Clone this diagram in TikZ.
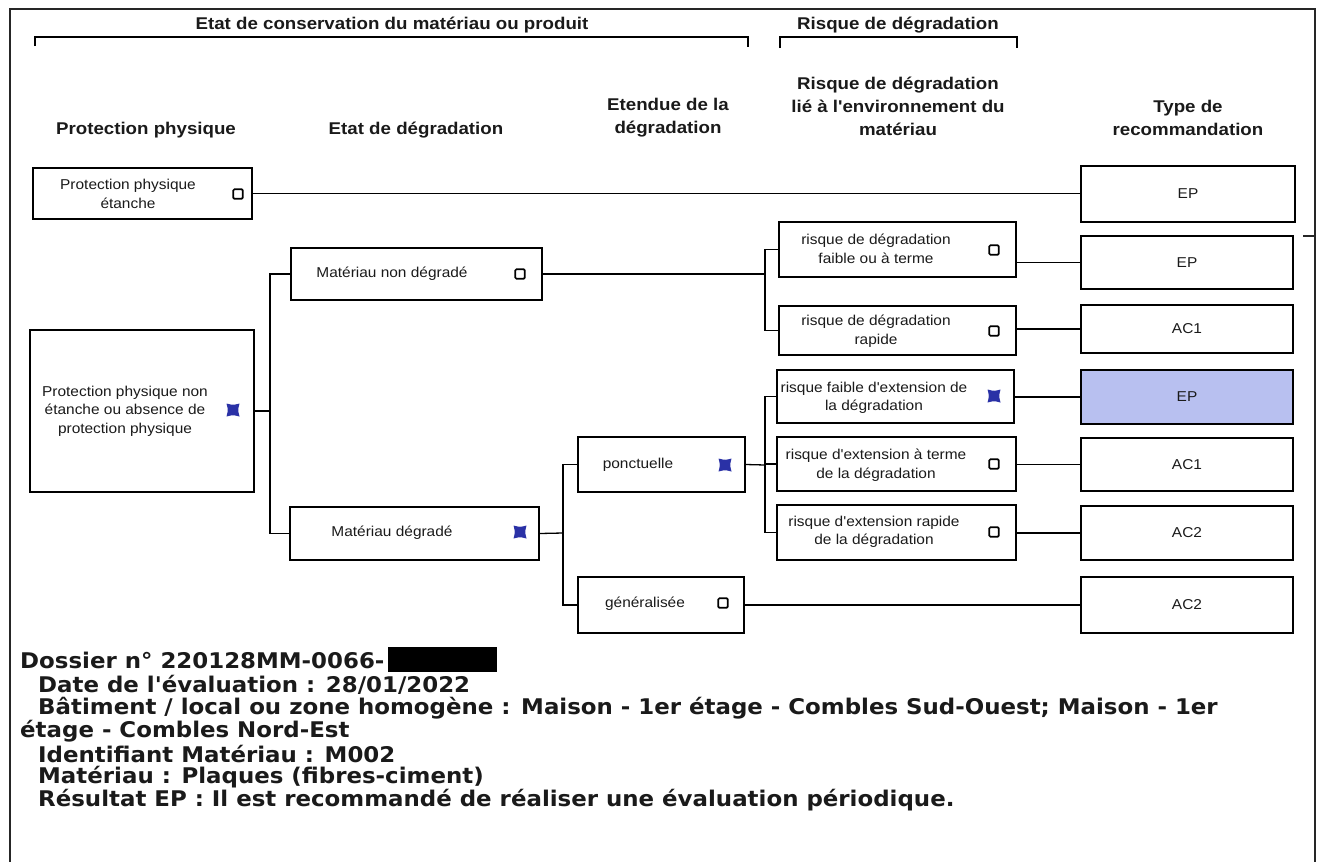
\documentclass[tikz,border=0pt]{standalone}
\usepackage{fontspec}
\setmainfont{Liberation Sans}
\newfontfamily\boxfont[FakeStretch=1.08]{Liberation Sans}
\newfontfamily\hdfont[FakeStretch=1.1]{Liberation Sans}
\newfontfamily\infofont[FakeStretch=1.06]{DejaVu Sans}
\usetikzlibrary{calc}
\definecolor{xblue}{HTML}{2A31A6}
\definecolor{eifill}{HTML}{B8C0F0}
\definecolor{ink}{HTML}{1A1A1A}
\begin{document}
\begin{tikzpicture}[x=1pt,y=-1pt,
  box/.style={draw=black, line width=1.7pt, inner sep=0pt},
  conn/.style={draw=black, line width=1.3pt},
  frameline/.style={draw=black!85, line width=1.3pt},
  chk/.style={draw=black, line width=1.7pt, minimum size=9.5pt, inner sep=0pt, rounded corners=1.2pt},
  txt/.style={font=\boxfont\fontsize{14.3}{18.5}\selectfont, align=center, text=ink, inner sep=0pt},
  hd/.style={font=\hdfont\bfseries\fontsize{17}{23}\selectfont, align=center, text=ink, inner sep=0pt},
  info/.style={font=\infofont\bfseries\fontsize{21.6}{23}\selectfont, anchor=west, text=ink, inner sep=0pt},
  bluex/.pic={\fill[xblue] (-6.5,-6.5) .. controls (0,-4.8) .. (6.5,-6.5) .. controls (4.8,0) .. (6.5,6.5) .. controls (0,4.8) .. (-6.5,6.5) .. controls (-4.8,0) .. cycle;}
]
\useasboundingbox (0,0) rectangle (1320,862);
\fill[white] (0,0) rectangle (1320,862);

% outer frame
\draw[frameline] (10,862) -- (10,9) -- (1315,9) -- (1315,862);
\draw[frameline] (1303,236) -- (1315,236);

% top brackets
\draw[line width=1.4pt] (35,46) -- (35,37) -- (748,37) -- (748,47);
\draw[line width=1.4pt] (780,48) -- (780,37) -- (1017,37) -- (1017,48);
\node[hd] (h1) at (392,25) {Etat de conservation du matériau ou produit};
\node[hd] (h2) at (898,25) {Risque de dégradation};

% column headers
\node[hd] (c1) at (146,130) {Protection physique};
\node[hd] (c2) at (416,130) {Etat de dégradation};
\node[hd] (c3) at (668,118) {Etendue de la\\dégradation};
\node[hd] (c4) at (898,106) {Risque de dégradation\\lié à l'environnement du\\matériau};
\node[hd] (c5) at (1188,118) {Type de\\recommandation};

% column 1
\node[box, minimum width=219pt, minimum height=51pt] (b1) at (142.5,193.5) {};
\node[txt] (t1) at (128,194) {Protection physique\\étanche};
\node[chk] (k1) at (238,194) {};
\node[box, minimum width=224pt, minimum height=162pt] (b2) at (142,411) {};
\node[txt] (t2) at (125,411) {Protection physique non\\étanche ou absence de\\protection physique};
\pic at (233,410) {bluex};

% column 2
\node[box, minimum width=251pt, minimum height=52pt] (b3) at (416.5,274) {};
\node[txt] (t3) at (392,274) {Matériau non dégradé};
\node[chk] (k3) at (520,274) {};
\node[box, minimum width=249pt, minimum height=53pt] (b4) at (414.5,533.5) {};
\node[txt] (t4) at (392,533) {Matériau dégradé};
\pic at (520,532) {bluex};

% column 3
\node[box, minimum width=167pt, minimum height=55pt] (b5) at (661.5,464.5) {};
\node[txt] (t5) at (638,465) {ponctuelle};
\pic at (725,465) {bluex};
\node[box, minimum width=166pt, minimum height=56pt] (b6) at (661,605) {};
\node[txt] (t6) at (645,604) {généralisée};
\node[chk] (k6) at (723,603) {};

% column 4
\node[box, minimum width=237pt, minimum height=55pt] (b7) at (897.5,249.5) {};
\node[txt] (t7) at (876,249) {risque de dégradation\\faible ou à terme};
\node[chk] (k7) at (994,250) {};
\node[box, minimum width=237pt, minimum height=49pt] (b8) at (897.5,330.5) {};
\node[txt] (t8) at (876,331) {risque de dégradation\\rapide};
\node[chk] (k8) at (994,331) {};
\node[box, minimum width=237pt, minimum height=53pt] (b9) at (895.5,396.5) {};
\node[txt] (t9) at (874,398) {risque faible d'extension de\\la dégradation};
\pic at (994,396) {bluex};
\node[box, minimum width=239pt, minimum height=54pt] (b10) at (896.5,464) {};
\node[txt] (t10) at (876,465) {risque d'extension à terme\\de la dégradation};
\node[chk] (k10) at (994,464) {};
\node[box, minimum width=239pt, minimum height=55pt] (b11) at (896.5,532.5) {};
\node[txt] (t11) at (874,532) {risque d'extension rapide\\de la dégradation};
\node[chk] (k11) at (994,532) {};

% column 5 (results)
\node[box, minimum width=214pt, minimum height=56pt] (r1) at (1188,194) {};
\node[txt] (s1) at (1188,194) {EP};
\node[box, minimum width=212pt, minimum height=53pt] (r2) at (1187,262.5) {};
\node[txt] (s2) at (1187,262.5) {EP};
\node[box, minimum width=212pt, minimum height=48pt] (r3) at (1187,329) {};
\node[txt] (s3) at (1187,329) {AC1};
\node[box, fill=eifill, minimum width=212pt, minimum height=54pt] (r4) at (1187,397) {};
\node[txt] (s4) at (1187,397) {EP};
\node[box, minimum width=212pt, minimum height=53pt] (r5) at (1187,464.5) {};
\node[txt] (s5) at (1187,464.5) {AC1};
\node[box, minimum width=212pt, minimum height=54pt] (r6) at (1187,533) {};
\node[txt] (s6) at (1187,533) {AC2};
\node[box, minimum width=212pt, minimum height=56pt] (r7) at (1187,605) {};
\node[txt] (s7) at (1187,605) {AC2};

% junction coordinates
\coordinate (j1) at (270,411);
\coordinate (j2) at (765,274);
\coordinate (j3) at (563,533);
\coordinate (j4) at (765,465);

% connectors
\draw[conn] (b1.east) -- (b1.east -| r1.west);
\draw[conn] (b2.east) -- (j1);
\draw[conn] (b3.west) -- (b3.west -| j1) -- (b4.west -| j1) -- (b4.west);
\draw[conn] (b3.east) -- (j2);
\draw[conn] (b7.west) -- (b7.west -| j2) -- (b8.west -| j2) -- (b8.west);
\draw[conn] (r2.west -| b7.east) -- (r2.west);
\draw[conn] (r3.west -| b8.east) -- (r3.west);
\draw[conn] (r4.west -| b9.east) -- (r4.west);
\draw[conn] (r5.west -| b10.east) -- (r5.west);
\draw[conn] (r6.west -| b11.east) -- (r6.west);
\draw[conn] (b4.east) -- (j3);
\draw[conn] (b5.west) -- (b5.west -| j3) -- (b6.west -| j3) -- (b6.west);
\draw[conn] (b5.east) -- (j4);
\draw[conn] (b9.west) -- (b9.west -| j4) -- (b11.west -| j4) -- (b11.west);
\draw[conn] (b10.west -| j4) -- (b10.west);
\draw[conn] (r7.west -| b6.east) -- (r7.west);

% bottom information
\node[info] (i1) at (20,660) {Dossier n° 220128MM-0066-};
\fill[black] (388,647) rectangle (497,672);
\node[info] (i2) at (38,685) {Date de l'évaluation : 28/01/2022};
\node[info] (i3) at (38,708) {Bâtiment / local ou zone homogène : Maison - 1er étage - Combles Sud-Ouest; Maison - 1er};
\node[info] (i4) at (20,731) {étage - Combles Nord-Est};
\node[info] (i5) at (38,754) {Identifiant Matériau : M002};
\node[info] (i6) at (38,777) {Matériau : Plaques (fibres-ciment)};
\node[info] (i7) at (38,800) {Résultat EP : Il est recommandé de réaliser une évaluation périodique.};
\end{tikzpicture}
\end{document}
